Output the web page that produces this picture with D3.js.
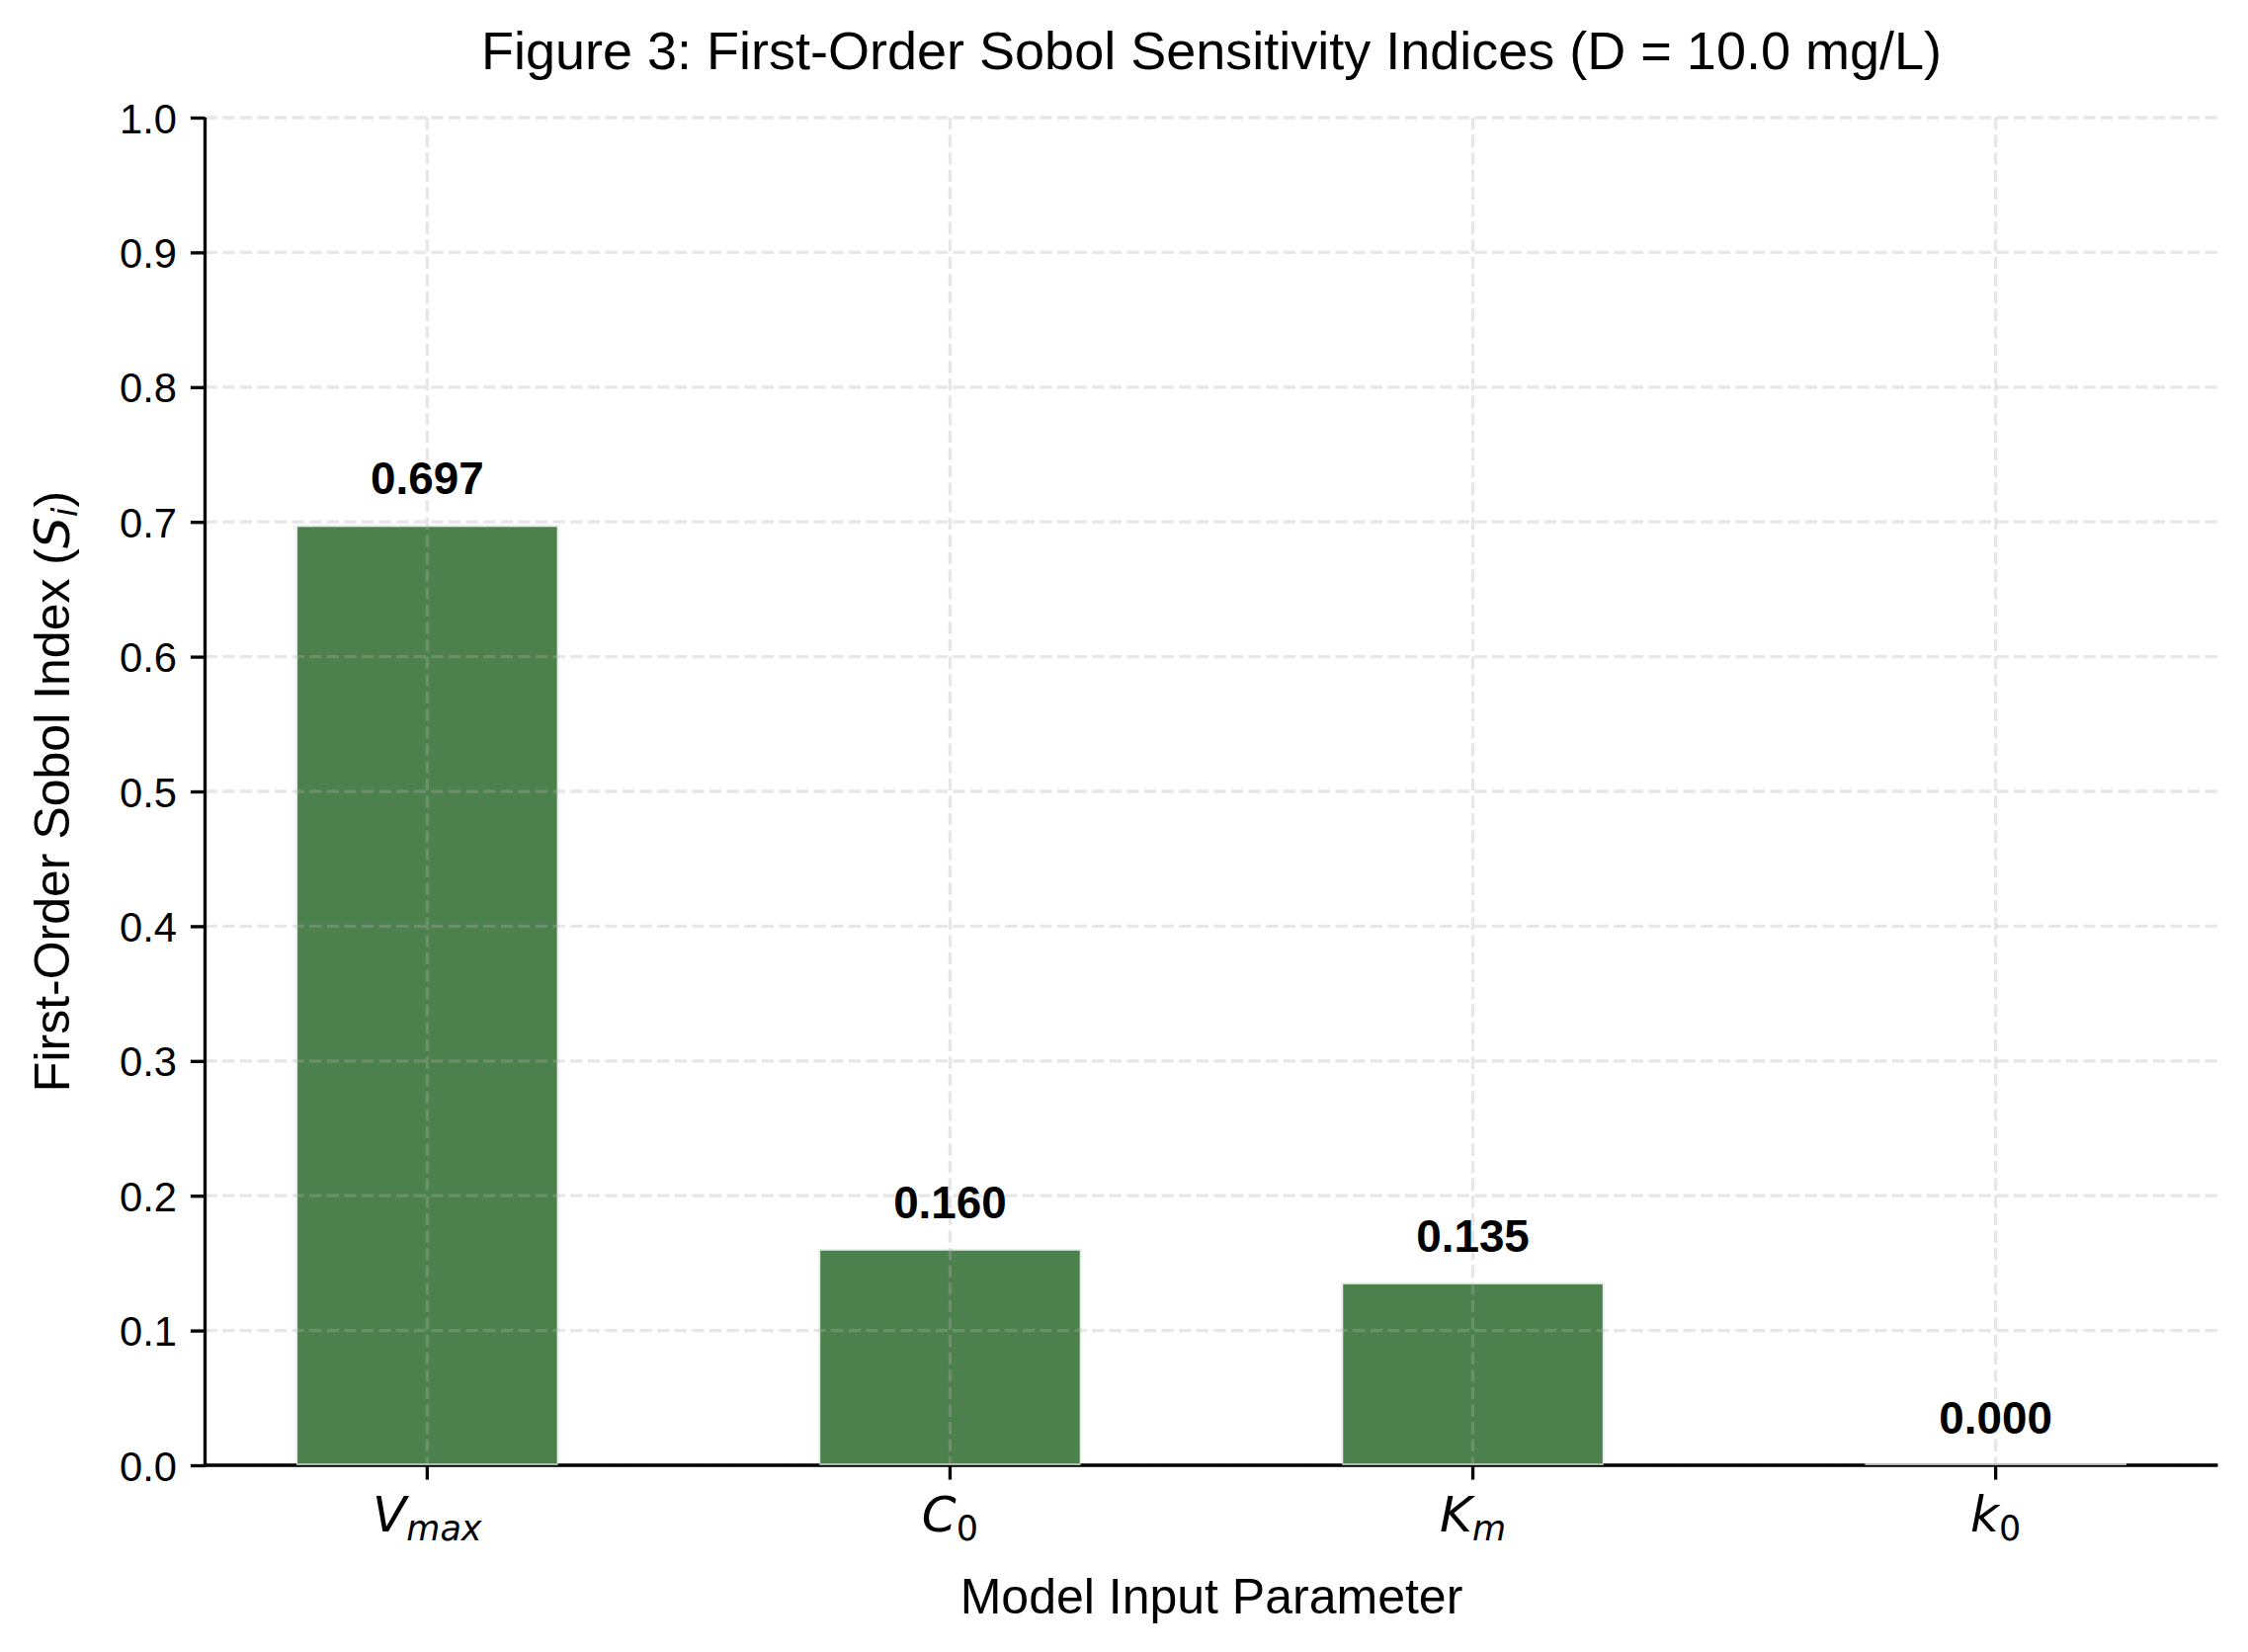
<!DOCTYPE html>
<html>
<head>
<meta charset="utf-8">
<script src="https://cdn.jsdelivr.net/npm/d3@7"></script>
<style>
  html, body { margin: 0; padding: 0; background: #fff; }
  svg { display: block; }
  text { font-family: "Liberation Sans", Arial, sans-serif; fill: #000; }
  .math { font-family: "DejaVu Sans", sans-serif; }
</style>
</head>
<body>
<div id="chart"></div>
<script>
// data
const tickMain = ['V', 'C', 'K', 'k'];
const tickSub = ['max', '0', 'm', '0'];
const subItalic = [true, false, true, false];
const values = [0.697, 0.160, 0.135, 0.000];
const yTicks = [0.0, 0.1, 0.2, 0.3, 0.4, 0.5, 0.6, 0.7, 0.8, 0.9, 1.0];

const W = 2275, H = 1672;
const m = { left: 207.5, right: 2244.5, top: 119, bottom: 1483 };
const barColor = '#4c814d';

const svg = d3.select('#chart').append('svg')
  .attr('width', W)
  .attr('height', H);

const x = d3.scaleLinear().domain([-0.425, 3.425]).range([m.left, m.right]);
const y = d3.scaleLinear().domain([0, 1]).range([m.bottom, m.top]);
const barW = x(0.5) - x(0);

// bars first, grid goes over them (like the original)
const bars = svg.append('g');
bars.selectAll('rect').data(values).enter().append('rect')
  .attr('x', (d, i) => x(i) - barW / 2)
  .attr('y', d => y(d))
  .attr('width', barW)
  .attr('height', d => y(0) - y(d))
  .attr('fill', barColor)
  .attr('stroke', '#e9eee9')
  .attr('stroke-width', 2);

// grid
const grid = svg.append('g')
  .attr('stroke', '#b0b0b0')
  .attr('stroke-opacity', 0.3)
  .attr('stroke-width', 3.33)
  .attr('stroke-dasharray', '12.3,5.3');
grid.selectAll('.gy').data(yTicks).enter().append('line')
  .attr('x1', m.left).attr('x2', m.right)
  .attr('y1', d => y(d)).attr('y2', d => y(d));
grid.selectAll('.gx').data(values).enter().append('line')
  .attr('x1', (d, i) => x(i)).attr('x2', (d, i) => x(i))
  .attr('y1', m.top).attr('y2', m.bottom);

// axes
const yAxis = d3.axisLeft(y).tickValues(yTicks).tickFormat(d3.format('.1f'))
  .tickSize(14.6).tickPadding(14);
const gy = svg.append('g').attr('transform', `translate(${m.left},0)`).call(yAxis);
gy.select('.domain').remove();
gy.selectAll('line').attr('stroke', '#000').attr('stroke-width', 3.33);
gy.selectAll('text').attr('font-size', 41.7).attr('fill', '#000')
  .attr('font-family', '"Liberation Sans", Arial, sans-serif').attr('dy', '0.36em');

const gx = svg.append('g').attr('transform', `translate(0,${m.bottom})`);
gx.selectAll('line').data(values).enter().append('line')
  .attr('x1', (d, i) => x(i)).attr('x2', (d, i) => x(i))
  .attr('y1', 0).attr('y2', 14.6)
  .attr('stroke', '#000').attr('stroke-width', 3.33);
const xl = gx.selectAll('text').data(tickMain).enter().append('text')
  .attr('class', 'math')
  .attr('x', (d, i) => x(i))
  .attr('y', 67)
  .attr('text-anchor', 'middle')
  .attr('font-size', 50);
xl.append('tspan').attr('font-style', 'italic').text(d => d);
xl.append('tspan')
  .attr('font-size', 35)
  .attr('dy', 9)
  .attr('font-style', (d, i) => subItalic[i] ? 'italic' : 'normal')
  .text((d, i) => tickSub[i]);

// spines
svg.append('line')
  .attr('x1', m.left).attr('x2', m.left).attr('y1', m.top).attr('y2', m.bottom + 1.6)
  .attr('stroke', '#000').attr('stroke-width', 3.33);
svg.append('line')
  .attr('x1', m.left - 1.6).attr('x2', m.right).attr('y1', m.bottom).attr('y2', m.bottom)
  .attr('stroke', '#000').attr('stroke-width', 3.33);

// bar edges sit on top of the spine
svg.append('g').selectAll('line').data(values).enter().append('line')
  .attr('x1', (d, i) => x(i) - barW / 2).attr('x2', (d, i) => x(i) + barW / 2)
  .attr('y1', m.bottom - 1).attr('y2', m.bottom - 1)
  .attr('stroke', '#e9eee9').attr('stroke-width', 1.5);

// value labels
svg.append('g').selectAll('text').data(values).enter().append('text')
  .attr('x', (d, i) => x(i))
  .attr('y', d => y(d) - 32)
  .attr('text-anchor', 'middle')
  .attr('font-size', 45.8)
  .attr('font-weight', 'bold')
  .text(d => d.toFixed(3));

// title + labels
const cx = (m.left + m.right) / 2;
svg.append('text')
  .attr('x', cx).attr('y', 70)
  .attr('text-anchor', 'middle')
  .attr('font-size', 54)
  .text('Figure 3: First-Order Sobol Sensitivity Indices (D = 10.0 mg/L)');

svg.append('text')
  .attr('x', cx).attr('y', 1633)
  .attr('text-anchor', 'middle')
  .attr('font-size', 50)
  .text('Model Input Parameter');

const yl = svg.append('text')
  .attr('transform', `translate(70,${(m.top + m.bottom) / 2}) rotate(-90)`)
  .attr('text-anchor', 'middle')
  .attr('font-size', 50);
yl.append('tspan').text('First-Order Sobol Index (');
yl.append('tspan').attr('class', 'math').attr('font-style', 'italic').text('S');
yl.append('tspan').attr('class', 'math').attr('font-style', 'italic')
  .attr('font-size', 35).attr('dy', 8).text('i');
yl.append('tspan').attr('dy', -8).text(')');
</script>
</body>
</html>
